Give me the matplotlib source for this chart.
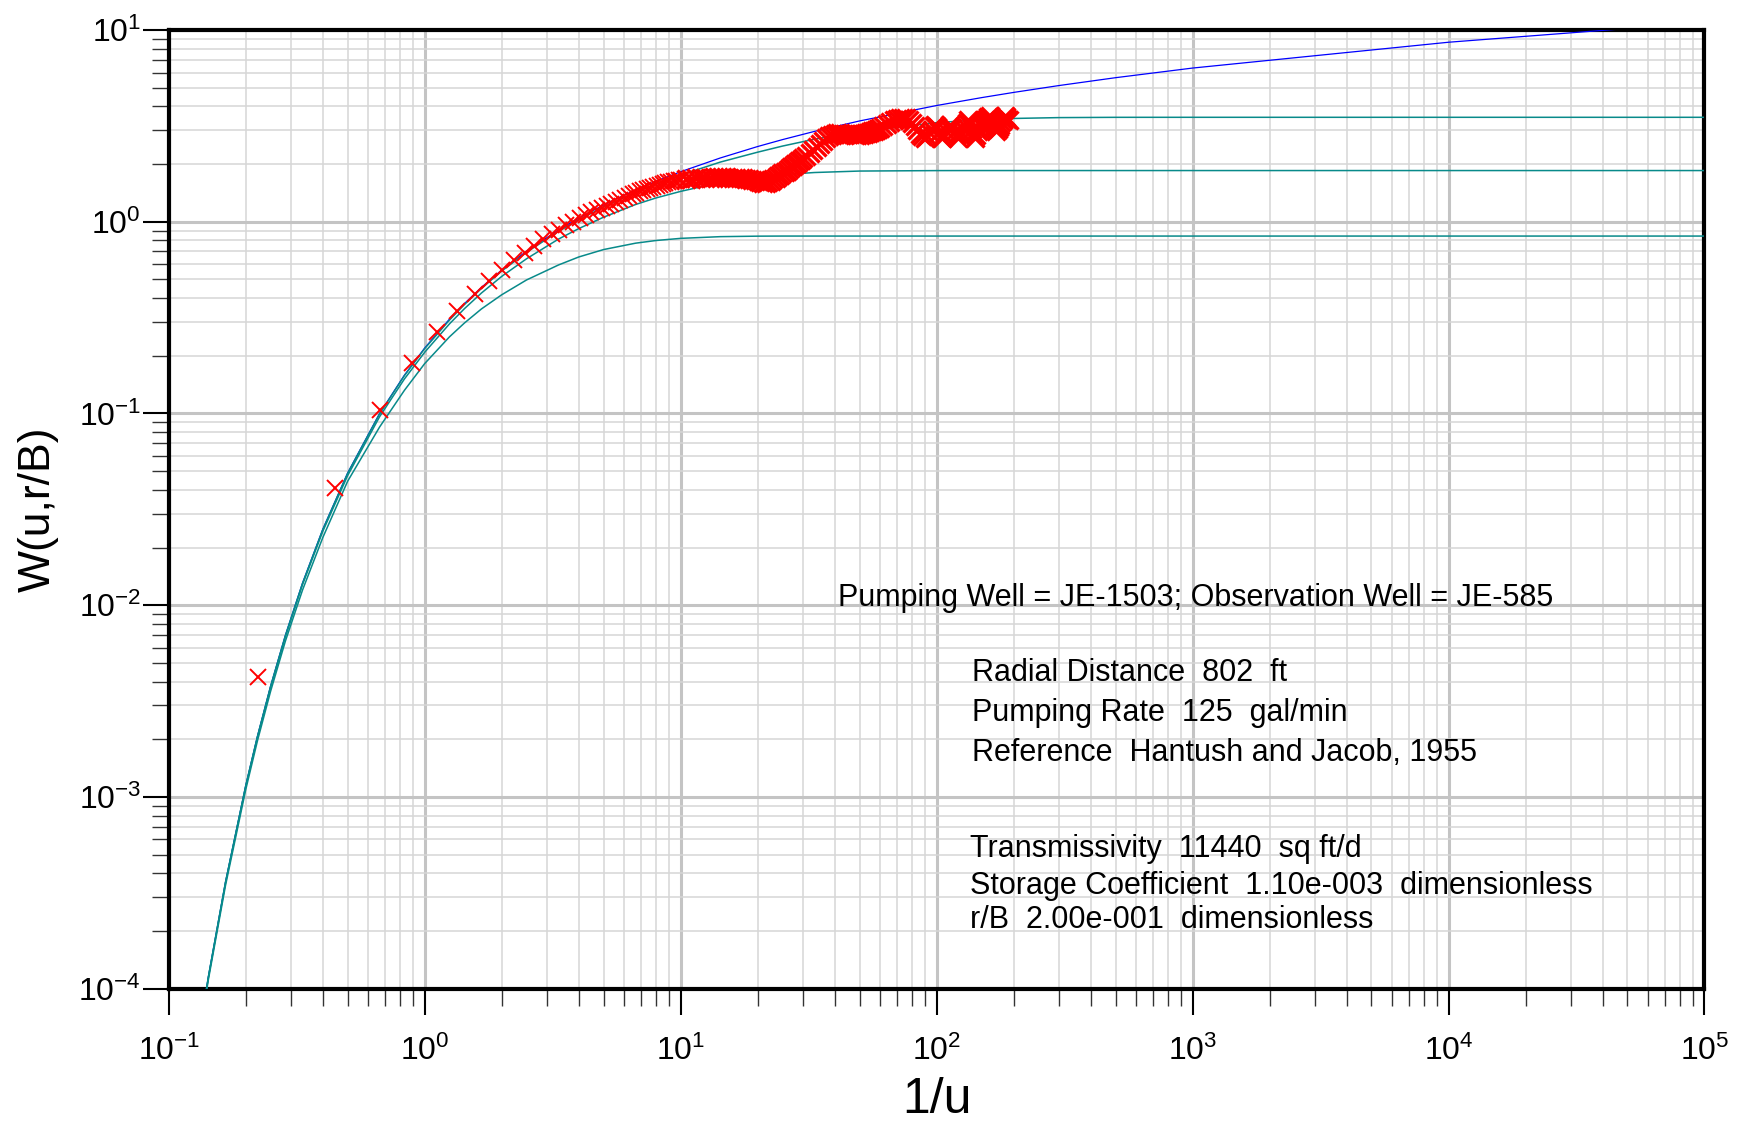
import matplotlib
matplotlib.use('Agg')
import matplotlib.pyplot as plt
from matplotlib.ticker import LogLocator, NullFormatter

# type curves W(u, r/B) against 1/u
inv_u = [0.125, 0.1429, 0.1667, 0.2, 0.2222, 0.25, 0.2857, 0.3333, 0.4, 0.5,
         0.6667, 0.8333, 1.0, 1.25, 1.4286, 1.6667, 2.0, 2.5, 3.333, 4.0,
         5.0, 6.667, 8.0, 10.0, 14.29, 20.0, 25.0, 33.33, 50.0, 100.0,
         150.0, 200.0, 300.0, 500.0, 1000.0, 1e4, 1e5]
w_theis = [3.767e-5, 1.155e-4, 3.601e-4, 1.148e-3, 2.073e-3, 3.779e-3, 6.970e-3,
           0.01305, 0.02491, 0.04890, 0.1000, 0.1584, 0.2194, 0.3106, 0.3738,
           0.4544, 0.5598, 0.7024, 0.9057, 1.0443, 1.2227, 1.4645, 1.6234,
           1.8229, 2.151, 2.4679, 2.6813, 2.959, 3.3547, 4.0379, 4.440, 4.7261,
           5.130, 5.6394, 6.3316, 8.6332, 10.9357]
w_rb02 = [3.762e-5, 1.153e-4, 3.595e-4, 1.146e-3, 2.068e-3, 3.770e-3, 6.950e-3,
          0.01300, 0.02481, 0.04871, 0.0995, 0.1575, 0.2179, 0.3070, 0.3694,
          0.4489, 0.5533, 0.6927, 0.890, 1.0236, 1.194, 1.423, 1.571, 1.752,
          2.047, 2.306, 2.481, 2.695, 2.953, 3.288, 3.406, 3.457, 3.492, 3.504,
          3.505, 3.505, 3.505]
w_rb05 = [3.74e-5, 1.145e-4, 3.57e-4, 1.134e-3, 2.045e-3, 3.72e-3, 6.84e-3,
          0.0128, 0.0243, 0.0474, 0.0962, 0.1513, 0.2085, 0.2933, 0.3516,
          0.4249, 0.5188, 0.641, 0.812, 0.921, 1.056, 1.23, 1.330, 1.44, 1.603,
          1.709, 1.761, 1.806, 1.838, 1.848, 1.849, 1.849, 1.849, 1.849, 1.849,
          1.849, 1.849]
w_rb10 = [3.66e-5, 1.116e-4, 3.456e-4, 1.093e-3, 1.963e-3, 3.552e-3, 6.50e-3,
          0.0120, 0.02254, 0.0443, 0.085, 0.132, 0.182, 0.251, 0.296, 0.351,
          0.416, 0.497, 0.595, 0.655, 0.716, 0.773, 0.798, 0.819, 0.836, 0.841,
          0.842, 0.842, 0.842, 0.842, 0.842, 0.842, 0.842, 0.842, 0.842, 0.842,
          0.842]

# observed drawdown converted to 1/u and W
obs_inv_u = [
    0.224, 0.447, 0.671, 0.895, 1.118, 1.342, 1.566, 1.790, 2.013, 2.237,
    2.461, 2.684, 2.908, 3.132, 3.355, 3.579, 3.803, 4.027, 4.250, 4.474,
    4.698, 4.921, 5.145, 5.369, 5.592, 5.816, 6.040, 6.263, 6.487, 6.711,
    6.934, 7.158, 7.382, 7.606, 7.829, 8.053, 8.277, 8.500, 8.724, 8.948,
    9.171, 9.395, 9.619, 9.842, 10.066,
    10.5, 11.0, 11.5, 12.0, 12.5, 13.0, 13.5, 14.0, 14.5, 15.0,
    15.5, 16.0, 16.5, 17.0, 17.5, 18.0, 18.5, 19.0, 19.5, 20.0,
    20.5, 21.0, 21.5, 22.0, 22.5, 23.0, 23.5, 24.0, 24.5, 25.0,
    25.5, 26.0, 26.5, 27.0, 27.5, 28.0, 28.5, 29.0, 29.5, 30.0,
    31, 32, 33, 34, 35, 36, 37, 38, 39, 40,
    41, 42, 43, 44, 45, 46, 47, 48, 49, 50,
    51, 52, 53, 54, 55, 56, 57, 58, 59, 60,
    62, 64, 66, 68, 70, 72, 74, 76, 78, 80, 82, 84, 86, 88, 90,
    92, 94, 96, 98, 99, 100, 102, 104, 105, 107, 109, 111, 113, 115, 117,
    119, 121, 123, 125, 127, 129, 131, 133, 135, 137, 139, 141, 143, 145,
    147, 149, 151, 153, 155, 157, 159, 161, 163, 165, 167, 169, 171, 173,
    175, 177, 179, 181, 183, 185, 187, 189, 191]
obs_w = [
    0.0042, 0.041, 0.104, 0.184, 0.266, 0.342, 0.418, 0.49, 0.56, 0.63,
    0.69, 0.75, 0.81, 0.86, 0.91, 0.96, 1.00, 1.04, 1.08, 1.12,
    1.15, 1.18, 1.21, 1.24, 1.27, 1.30, 1.33, 1.36, 1.39, 1.41,
    1.44, 1.46, 1.48, 1.50, 1.52, 1.54, 1.56, 1.58, 1.59, 1.61,
    1.62, 1.63, 1.64, 1.65, 1.66,
    1.67, 1.68, 1.69, 1.69, 1.70, 1.70, 1.71, 1.71, 1.71, 1.71,
    1.70, 1.70, 1.70, 1.69, 1.69, 1.68, 1.67, 1.66, 1.65, 1.64,
    1.62, 1.60, 1.60, 1.61, 1.64, 1.67, 1.70, 1.73, 1.76, 1.79,
    1.82, 1.85, 1.88, 1.92, 1.96, 2.00, 2.03, 2.07, 2.11, 2.14,
    2.21, 2.29, 2.37, 2.46, 2.55, 2.64, 2.73, 2.80, 2.85, 2.88,
    2.89, 2.89, 2.88, 2.88, 2.87, 2.86, 2.86, 2.85, 2.85, 2.85,
    2.86, 2.88, 2.90, 2.92, 2.94, 2.97, 2.99, 3.02, 3.05, 3.08,
    3.15, 3.23, 3.31, 3.38, 3.44, 3.47, 3.48, 3.47, 3.40, 3.28, 3.14, 3.00,
    2.88, 2.79, 2.74,
    2.81, 2.90, 3.02, 3.15, 3.18, 3.12, 2.95, 2.76, 2.73, 2.84, 2.96, 3.08,
    3.18, 3.07, 2.95,
    2.84, 2.74, 2.82, 2.94, 3.06, 3.17, 3.28, 3.38, 3.22, 3.06, 2.89, 2.74,
    2.84, 2.96,
    3.06, 3.15, 3.24, 3.31, 3.38, 3.44, 3.50, 3.55, 3.42, 3.28, 3.16, 3.05,
    2.96, 3.05,
    3.13, 3.21, 3.30, 3.38, 3.46, 3.55, 3.50, 3.44, 3.38]

x_decades = [0.1, 1, 10, 100, 1000, 1e4, 1e5]
y_decades = [1e-4, 1e-3, 1e-2, 1e-1, 1, 10]

notes_top = 'Pumping Well = JE-1503; Observation Well = JE-585'
notes_mid = ['Radial Distance  802  ft',
             'Pumping Rate  125  gal/min',
             'Reference  Hantush and Jacob, 1955']
notes_low = ['Transmissivity  11440  sq ft/d',
             'Storage Coefficient  1.10e-003  dimensionless',
             'r/B  2.00e-001  dimensionless']

plt.rcParams['font.family'] = ['Liberation Sans', 'DejaVu Sans']

W, H = 1740, 1122
fig = plt.figure(figsize=(W / 100, H / 100), dpi=100)
ax = fig.add_axes([168.7 / W, 1 - 988.7 / H, 1535.8 / W, 958.7 / H])

ax.plot(inv_u, w_theis, color='#0000ff', lw=0.9, zorder=3)
for curve in (w_rb02, w_rb05, w_rb10):
    ax.plot(inv_u, curve, color='#088a8a', lw=1.1, zorder=4)

# early readings are spread out, later ones pile up into a thick band
n_sparse = 45
ax.plot(obs_inv_u[:n_sparse], obs_w[:n_sparse], ls='none', marker='x',
        color='#ff0000', ms=12, mew=1.4, zorder=5)
ax.plot(obs_inv_u[n_sparse:], obs_w[n_sparse:], ls='none', marker='x',
        color='#ff0000', ms=13, mew=2.4, zorder=5)

ax.set_xscale('log')
ax.set_yscale('log')
ax.set_xlim(x_decades[0], x_decades[-1])
ax.set_ylim(y_decades[0], y_decades[-1])
ax.set_xticks(x_decades)
ax.set_yticks(y_decades)

for axis in (ax.xaxis, ax.yaxis):
    axis.set_minor_locator(LogLocator(base=10, subs=range(2, 10), numticks=100))
    axis.set_minor_formatter(NullFormatter())

ax.set_axisbelow(True)
ax.grid(which='major', color='#c4c4c4', lw=2.2)
ax.grid(which='minor', color='#d6d6d6', lw=1.1)

for sp in ax.spines.values():
    sp.set_linewidth(3)
    sp.set_color('black')

ax.tick_params(which='major', direction='out', length=19, width=1.5, color='black')
ax.tick_params(which='minor', direction='out', length=12, width=1.0, color='#333333')
ax.tick_params(axis='x', which='major', labelsize=23, pad=15)
ax.tick_params(axis='y', which='major', labelsize=23, pad=1)

ax.set_xlabel('1/u', fontsize=36, va='center')
ax.xaxis.set_label_coords(0.5, -0.116)
ax.set_ylabel('W(u,r/B)', fontsize=32, va='center')
ax.yaxis.set_label_coords(-0.0851, 0.5)

fig.text(838 / W, 1 - 606 / H, notes_top, fontsize=22, va='baseline')
for i, s in enumerate(notes_mid):
    fig.text(972 / W, 1 - (681 + 40 * i) / H, s, fontsize=22, va='baseline')
for s, y in zip(notes_low, (857, 894, 928)):
    fig.text(970 / W, 1 - y / H, s, fontsize=22, va='baseline')

fig.savefig('out.png', dpi=100)
